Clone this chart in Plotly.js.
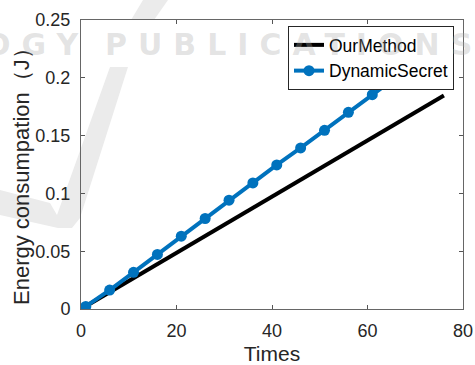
<!DOCTYPE html>
<html>
<head>
<meta charset="utf-8">
<script src="https://cdn.plot.ly/plotly-3.0.1.min.js"></script>
<style>html,body{margin:0;padding:0;background:#fff;}#chart{width:475px;height:365px;}</style>
</head>
<body>
<div id="chart"></div>
<script>
const times = [1, 6, 11, 16, 21, 26, 31, 36, 41, 46, 51, 56, 61, 66, 71, 76];
const ourMethod = [0.0024, 0.0146, 0.0267, 0.0389, 0.0510, 0.0632, 0.0753, 0.0875, 0.0996, 0.1118, 0.1239, 0.1361, 0.1482, 0.1604, 0.1725, 0.1847];
const dynamicSecret = [0.0022, 0.0164, 0.0317, 0.0472, 0.0630, 0.0783, 0.0941, 0.1091, 0.1246, 0.1393, 0.1546, 0.1701, 0.1854, 0.2005, 0.2160, 0.2310];
const seriesNames = ["OurMethod", "DynamicSecret"];
const xTicks = [0, 20, 40, 60, 80];
const yTicks = [0, 0.05, 0.1, 0.15, 0.2, 0.25];
const yTickText = ["0", "0.05", "0.1", "0.15", "0.2", "0.25"];

const W = 475, H = 365, L = 81, R = 12, T = 20, B = 56;
const pw = W - L - R, ph = H - T - B;
const px = x => (x - L) / pw;
const py = y => (H - B - y) / ph;
function path(pts) {
  return 'M ' + pts.map(p => px(p[0]).toFixed(4) + ',' + py(p[1]).toFixed(4)).join(' L ') + ' Z';
}
const wm = '#ebebeb';
const wmText = 'rgba(170,170,170,0.32)';
const font = 'Liberation Sans, Arial, Helvetica, sans-serif';

const traces = [
  {x: times, y: ourMethod, name: seriesNames[0], type: 'scatter', mode: 'lines',
   line: {color: '#000000', width: 4}},
  {x: times, y: dynamicSecret, name: seriesNames[1], type: 'scatter', mode: 'lines+markers',
   line: {color: '#0072BD', width: 4}, marker: {color: '#0072BD', size: 11}}
];

const layout = {
  width: W, height: H,
  margin: {l: L, r: R, t: T, b: B, pad: 0},
  paper_bgcolor: '#ffffff', plot_bgcolor: 'rgba(0,0,0,0)',
  font: {family: font, color: '#262626'},
  showlegend: true,
  xaxis: {
    range: [0, 80], tickvals: xTicks, ticks: 'inside', ticklen: 4, tickcolor: '#555',
    showline: true, linecolor: '#666', linewidth: 1, mirror: 'ticks',
    showgrid: false, zeroline: false, tickfont: {size: 18, color: '#262626'},
    ticklabelstandoff: 5,
    title: {text: 'Times', font: {size: 21, color: '#262626'}, standoff: 7}
  },
  yaxis: {
    range: [0, 0.25], tickvals: yTicks, ticktext: yTickText, ticks: 'inside', ticklen: 4, tickcolor: '#555',
    showline: true, linecolor: '#666', linewidth: 1, mirror: 'ticks',
    showgrid: false, zeroline: false, tickfont: {size: 18, color: '#262626'},
    ticklabelstandoff: 6
  },
  legend: {
    x: px(454), xanchor: 'right', y: py(26), yanchor: 'top',
    bgcolor: '#ffffff', bordercolor: '#262626', borderwidth: 1,
    font: {size: 17.5, color: '#000'}, itemwidth: 30, tracegroupgap: 0
  },
  shapes: [
    {type: 'path', xref: 'paper', yref: 'paper', layer: 'below', line: {width: 0}, fillcolor: wm,
     path: path([[143, 0], [168, 0], [154, 20], [131, 20]])},
    {type: 'path', xref: 'paper', yref: 'paper', layer: 'below', line: {width: 0}, fillcolor: wm,
     path: path([[110, 67], [128, 67], [80, 218], [72, 228], [58, 228], [0, 215], [0, 190], [50, 203], [57, 215]])}
  ],
  annotations: [
    {xref: 'paper', yref: 'paper', x: px(21), y: py(171), xanchor: 'center', yanchor: 'middle', showarrow: false,
     textangle: -90, text: 'Energy consumpation（J）', font: {size: 22, color: '#262626'}},
    {xref: 'paper', yref: 'paper', x: px(103), y: py(44), xanchor: 'left', yanchor: 'middle', showarrow: false,
     text: '<span style="letter-spacing:11px">PUBLICATIONS</span>',
     font: {family: 'DejaVu Sans, sans-serif', size: 30, weight: 'bold', color: wmText}},
    {xref: 'paper', yref: 'paper', x: px(91), y: py(44), xanchor: 'right', yanchor: 'middle', showarrow: false,
     text: '<span style="letter-spacing:11px">OGY</span>',
     font: {family: 'DejaVu Sans, sans-serif', size: 30, weight: 'bold', color: wmText}}
  ]
};

Plotly.newPlot('chart', traces, layout, {displayModeBar: false, staticPlot: true});
</script>
</body>
</html>
